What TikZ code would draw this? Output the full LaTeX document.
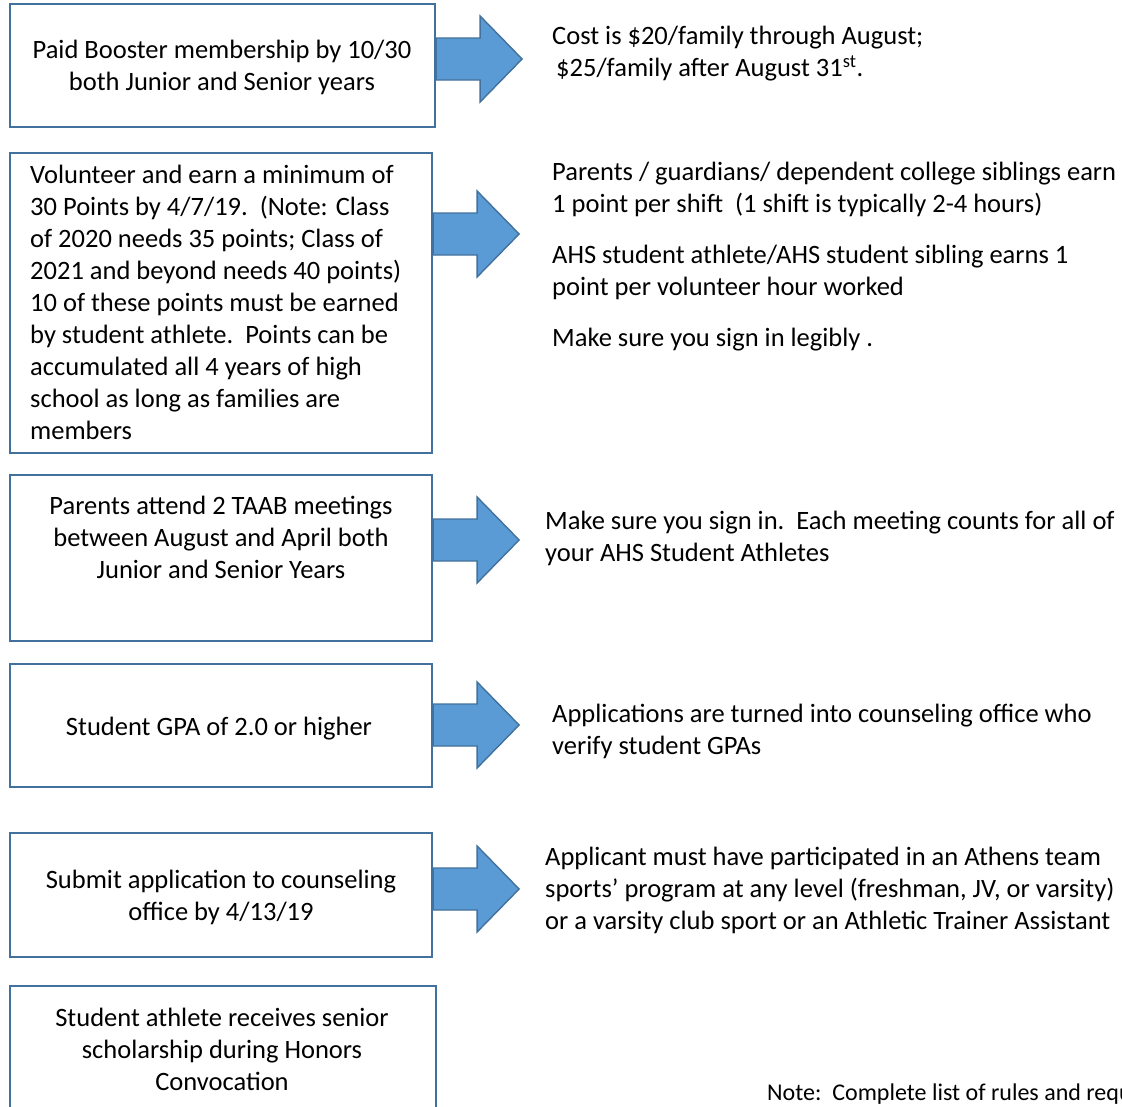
\documentclass[tikz,border=0pt]{standalone}
\usepackage{fontspec}
\setmainfont{Carlito}
\definecolor{boxline}{HTML}{41719C}
\definecolor{arrowfill}{HTML}{5B9BD5}

\begin{document}
\begin{tikzpicture}[x=1pt,y=-1pt,font=\fontsize{26.5}{32}\selectfont,
  stepbox/.style={draw=boxline,line width=2.2pt,minimum height=#1,inner sep=0pt},
  boxtext/.style={anchor=north,inner sep=0pt,align=center},
  sidetext/.style={anchor=north west,inner sep=0pt,align=left},
  blockarrow/.style={draw=boxline,fill=arrowfill,line width=1.4pt,line join=miter}]
\useasboundingbox (0,0) rectangle (1122,1106);

% requirement boxes
\node[stepbox=123,minimum width=425] (b1) at (222.5,65.5) {};
\node[stepbox=300,minimum width=422] (b2) at (221,303)    {};
\node[stepbox=166,minimum width=422] (b3) at (221,558)    {};
\node[stepbox=123,minimum width=422] (b4) at (221,725.5)  {};
\node[stepbox=124,minimum width=422] (b5) at (221,895)    {};
\node[stepbox=140,minimum width=426] (b6) at (223,1056)   {};

\node[boxtext] (t1) at (222,35.6) {\strut Paid Booster membership by 10/30\\both Junior and Senior years};
\node[sidetext] (t2) at (30,160.6) {\strut Volunteer and earn a minimum of\\
  30 Points by 4/7/19.\ \ (Note: Class\\
  of 2020 needs 35 points; Class of\\
  2021 and beyond needs 40 points)\\
  10 of these points must be earned\\
  by student athlete.\ \ Points can be\\
  accumulated all 4 years of high\\
  school as long as families are\\
  members};
\node[boxtext] (t3) at (221,491.6) {\strut Parents attend 2 TAAB meetings\\between August and April both\\Junior and Senior Years};
\node[boxtext] (t4) at (219,712.6) {\strut Student GPA of 2.0 or higher};
\node[boxtext] (t5) at (221,865.6) {\strut Submit application to counseling\\office by 4/13/19};
\node[boxtext] (t6) at (222,1003.6) {\strut Student athlete receives senior\\scholarship during Honors\\Convocation};

% notes on the right
\node[sidetext] (r1) at (552,21.6) {\strut Cost is \$20/family through August;\\
  \hspace{4pt}\$25/family after August 31\textsuperscript{st}.};
\node[sidetext] (r2) at (552,157.6) {\strut Parents / guardians/ dependent college siblings earn\\
  1 point per shift\ \ (1 shift is typically 2-4 hours)\\[19pt]
  AHS student athlete/AHS student sibling earns 1\\
  point per volunteer hour worked\\[19pt]
  Make sure you sign in legibly .};
\node[sidetext] (r3) at (545,506.6) {\strut Make sure you sign in.\ \ Each meeting counts for all of\\
  your AHS Student Athletes};
\node[sidetext] (r4) at (552,699.6) {\strut Applications are turned into counseling office who\\
  verify student GPAs};
\node[sidetext] (r5) at (545,842.6) {\strut Applicant must have participated in an Athens team\\
  sports’ program at any level (freshman, JV, or varsity)\\
  or a varsity club sport or an Athletic Trainer Assistant};
\node[sidetext,font=\fontsize{24}{29}\selectfont] (note) at (767,1079.7) {\strut Note:\ \ Complete list of rules and requirements};

% block arrows
\foreach \y [count=\i] in {59,234,540,725,889} {
  \coordinate (a\i) at (b\i.east |- 0,\y);
  \draw[blockarrow] (a\i) ++(0,-21) -- ++(44,0) -- ++(0,-22) -- ++(42,43)
    -- ++(-42,43) -- ++(0,-22) -- ++(-44,0) -- cycle;
}
\end{tikzpicture}
\end{document}
